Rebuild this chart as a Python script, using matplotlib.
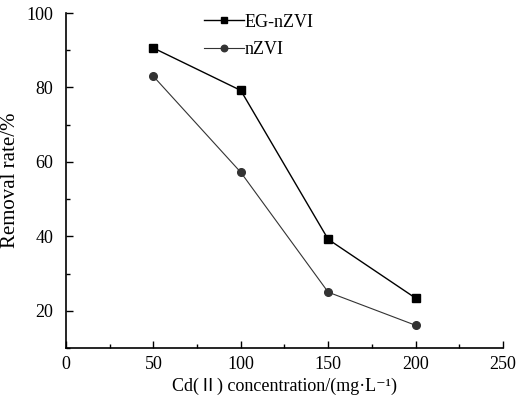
import numpy as np
import matplotlib
matplotlib.use('Agg')
import matplotlib.pyplot as plt
from matplotlib.ticker import MultipleLocator

plt.rcParams.update({
    'font.family': ['Liberation Serif', 'Noto Sans CJK SC', 'DejaVu Serif'],
    'font.size': 13,
})

conc = [50, 100, 150, 200]
eg_nzvi = [90.6, 79.2, 39.2, 23.4]
nzvi = [83.0, 57.2, 25.0, 16.1]

fig = plt.figure(figsize=(5.3, 4.03), dpi=100)
ax = fig.add_axes([0.1245, 0.1365, 0.8245, 0.8312])

ax.plot(conc, eg_nzvi, color="black", lw=1.0, marker="s", ms=5.5, label="EG-nZVI")
ax.plot(conc, nzvi, color="#333333", lw=0.8, marker="o", ms=5.5, label="nZVI")

ax.set_xlim(0, 250)
ax.set_ylim(10, 100)
ax.xaxis.set_major_locator(MultipleLocator(50))
ax.xaxis.set_minor_locator(MultipleLocator(25))
ax.yaxis.set_major_locator(MultipleLocator(20))
ax.yaxis.set_minor_locator(MultipleLocator(10))
ax.tick_params(which="both", direction="in", width=1)
ax.tick_params(which="major", length=5, pad=6)
ax.tick_params(axis="y", which="major", pad=9)
ax.tick_params(which="minor", length=3)
for s in ["top", "right"]:
    ax.spines[s].set_visible(False)
for s in ["left", "bottom"]:
    ax.spines[s].set_linewidth(1.2)

ax.set_xlabel("Cd(Ⅱ) concentration/(mg·L⁻¹)", labelpad=3)
ax.set_ylabel("Removal rate/%", fontsize=15, labelpad=5)

ax.legend(loc="upper left", bbox_to_anchor=(0.30, 1.02), frameon=False,
          handlelength=2.2, handletextpad=0.05, labelspacing=0.6, borderaxespad=0,
          markerscale=0.85)

plt.savefig("out.png", dpi=100)
plt.close()
